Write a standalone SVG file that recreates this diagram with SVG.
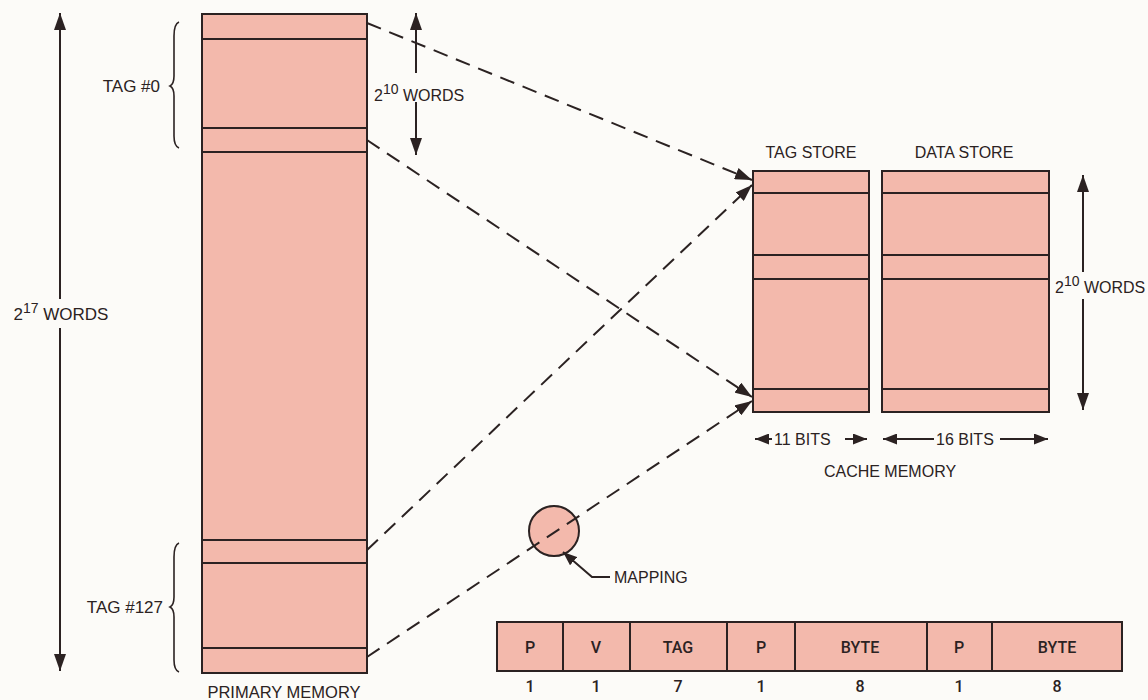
<svg xmlns="http://www.w3.org/2000/svg" width="1148" height="700" viewBox="0 0 1148 700">
<defs>
<style>
.blk{fill:#f3b9ac;stroke:#2b2222;stroke-width:2}
.ln{stroke:#2b2222;stroke-width:2;fill:none}
.dim{stroke:#2b2222;stroke-width:2;fill:none}
.dash{stroke:#2b2222;stroke-width:2;fill:none;stroke-dasharray:15 9}
.br{stroke:#2b2222;stroke-width:1.6;fill:none}
text{font-family:"Liberation Sans",Arial,sans-serif;fill:#2b2222;font-size:16px}
.c{text-anchor:middle}
.tg{font-size:17px;text-anchor:end}
.reg{font-family:Roboto,"Liberation Sans",Arial,sans-serif;font-weight:500;font-size:16px;text-anchor:middle}
.sup{font-size:14px}
</style>
<marker id="ah" markerUnits="userSpaceOnUse" markerWidth="18" markerHeight="12" refX="17" refY="6" orient="auto">
<path d="M0,0 L17,6 L0,12 z" fill="#2b2222"/>
</marker>
<marker id="ahs" markerUnits="userSpaceOnUse" markerWidth="15" markerHeight="11" refX="14" refY="5.5" orient="auto">
<path d="M0,0 L14,5.5 L0,11 z" fill="#2b2222"/>
</marker>
</defs>
<rect x="0" y="0" width="1148" height="700" fill="#fcfbf8"/>

<g id="primary-memory">
<rect class="blk" x="202" y="14" width="165" height="659"/>
<line class="ln" x1="202" y1="39" x2="367" y2="39"/>
<line class="ln" x1="202" y1="128" x2="367" y2="128"/>
<line class="ln" x1="202" y1="152" x2="367" y2="152"/>
<line class="ln" x1="202" y1="540" x2="367" y2="540"/>
<line class="ln" x1="202" y1="563" x2="367" y2="563"/>
<line class="ln" x1="202" y1="648" x2="367" y2="648"/>
<text class="c" x="284" y="698" style="font-size:16.5px">PRIMARY MEMORY</text>
</g>

<g id="size-primary">
<path class="dim" d="M60,299 L60,13" marker-end="url(#ah)"/>
<path class="dim" d="M60,328 L60,671" marker-end="url(#ah)"/>
<text x="61" y="320" text-anchor="middle" style="font-size:17px">2<tspan class="sup" dy="-7">17</tspan><tspan dy="7"> WORDS</tspan></text>
</g>

<g id="tag0">
<path class="br" d="M179,22 Q174,24 174,36 L174,76 Q174,84 170,86 Q174,88 174,96 L174,136 Q174,146 179,148"/>
<text class="tg" x="160" y="92">TAG #0</text>
</g>

<g id="tag127">
<path class="br" d="M179,543 Q174,545 174,557 L174,597 Q174,605 170,607 Q174,609 174,617 L174,660 Q174,670 179,672"/>
<text class="tg" x="163" y="613">TAG #127</text>
</g>

<g id="size-block">
<path class="dim" d="M416,73 L416,13" marker-end="url(#ah)"/>
<path class="dim" d="M416,102 L416,155" marker-end="url(#ah)"/>
<text x="374" y="101">2<tspan class="sup" dy="-7">10</tspan><tspan dy="7"> WORDS</tspan></text>
</g>

<g id="tag-store">
<rect class="blk" x="753" y="171" width="116" height="241"/>
<line class="ln" x1="753" y1="193" x2="869" y2="193"/>
<line class="ln" x1="753" y1="255" x2="869" y2="255"/>
<line class="ln" x1="753" y1="279" x2="869" y2="279"/>
<line class="ln" x1="753" y1="389" x2="869" y2="389"/>
<text class="c" x="811" y="158">TAG STORE</text>
</g>

<g id="data-store">
<rect class="blk" x="882" y="171" width="167" height="241"/>
<line class="ln" x1="882" y1="193" x2="1049" y2="193"/>
<line class="ln" x1="882" y1="255" x2="1049" y2="255"/>
<line class="ln" x1="882" y1="279" x2="1049" y2="279"/>
<line class="ln" x1="882" y1="389" x2="1049" y2="389"/>
<text class="c" x="964" y="158">DATA STORE</text>
</g>

<g id="size-cache">
<path class="dim" d="M1083,272 L1083,175" marker-end="url(#ah)"/>
<path class="dim" d="M1083,299 L1083,410" marker-end="url(#ah)"/>
<text x="1055" y="293">2<tspan class="sup" dy="-7">10</tspan><tspan dy="7"> WORDS</tspan></text>
</g>

<g id="bits">
<path class="dim" d="M772,439 L755,439" marker-end="url(#ahs)"/>
<text x="774" y="445">11 BITS</text>
<path class="dim" d="M845,439 L867,439" marker-end="url(#ahs)"/>
<path class="dim" d="M934,439 L883,439" marker-end="url(#ahs)"/>
<text x="936" y="445">16 BITS</text>
<path class="dim" d="M1000,439 L1048,439" marker-end="url(#ahs)"/>
<text class="c" x="890" y="477">CACHE MEMORY</text>
</g>

<g id="mapping">
<circle class="blk" cx="554" cy="531" r="25"/>
<path class="dim" d="M610,577 L592,577 L563,552" marker-end="url(#ahs)"/>
<text x="614" y="583">MAPPING</text>
</g>

<g id="connectors">
<path class="dash" d="M367,23 L752,180" marker-end="url(#ah)"/>
<path class="dash" d="M367,140 L752,397" marker-end="url(#ah)"/>
<path class="dash" d="M367,550 L752,185" marker-end="url(#ah)"/>
<path class="dash" d="M367,657 L752,401" marker-end="url(#ah)"/>
</g>

<g id="register">
<rect class="blk" x="497" y="622" width="625" height="49"/>
<line class="ln" x1="563" y1="622" x2="563" y2="671"/>
<line class="ln" x1="630" y1="622" x2="630" y2="671"/>
<line class="ln" x1="727" y1="622" x2="727" y2="671"/>
<line class="ln" x1="795" y1="622" x2="795" y2="671"/>
<line class="ln" x1="927" y1="622" x2="927" y2="671"/>
<line class="ln" x1="992" y1="622" x2="992" y2="671"/>
<text class="reg" x="530" y="653">P</text>
<text class="reg" x="596" y="653">V</text>
<text class="reg" x="678" y="653">TAG</text>
<text class="reg" x="761" y="653">P</text>
<text class="reg" x="860" y="653">BYTE</text>
<text class="reg" x="959" y="653">P</text>
<text class="reg" x="1057" y="653">BYTE</text>
<text class="reg" x="530" y="692">1</text>
<text class="reg" x="596" y="692">1</text>
<text class="reg" x="678" y="692">7</text>
<text class="reg" x="761" y="692">1</text>
<text class="reg" x="860" y="692">8</text>
<text class="reg" x="959" y="692">1</text>
<text class="reg" x="1057" y="692">8</text>
</g>
</svg>
